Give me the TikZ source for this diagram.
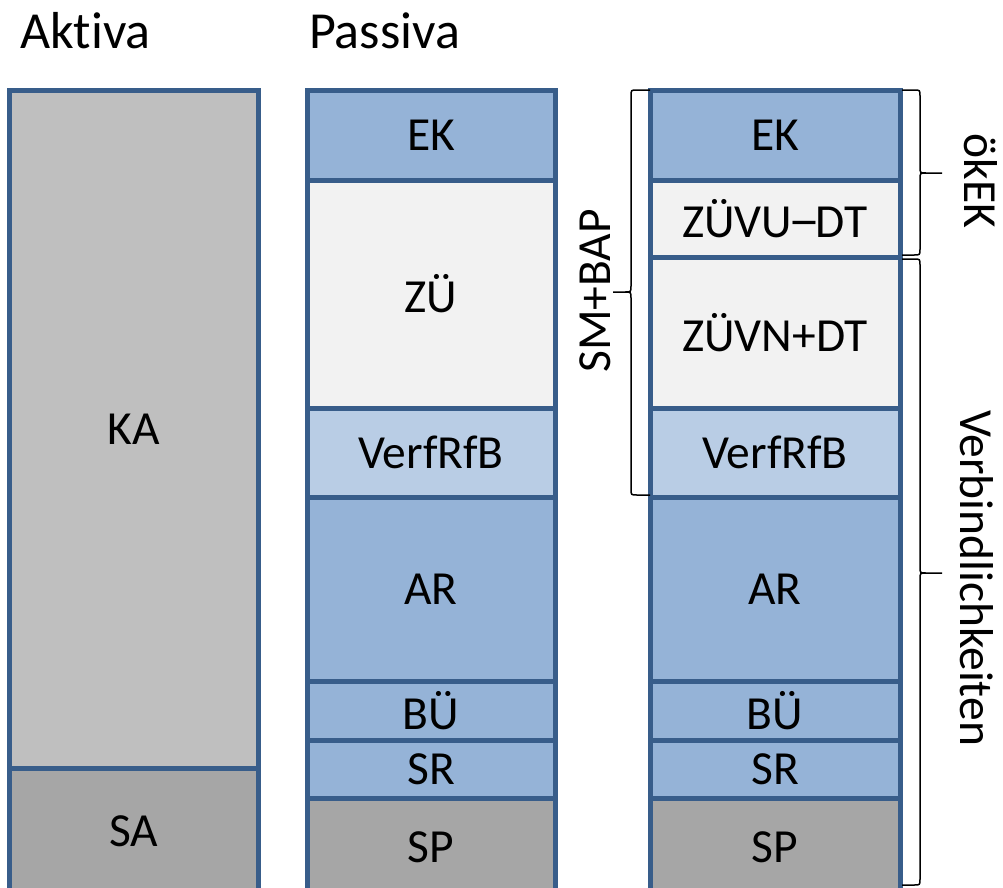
\documentclass[tikz,border=0pt]{standalone}
\usepackage{fontspec}
\setmainfont{Carlito}[Ligatures={NoCommon,NoRequired,NoContextual}]
\definecolor{bordc}{HTML}{385D8A}
\definecolor{blueA}{HTML}{95B3D7}
\definecolor{blueB}{HTML}{B9CDE5}
\definecolor{greyL}{HTML}{F2F2F2}
\definecolor{greyM}{HTML}{BFBFBF}
\definecolor{greyD}{HTML}{A6A6A6}
\newcommand{\wideDash}{\makebox[0.498em][c]{\scalebox{1.35}[1.1]{–}}}
\begin{document}
\begin{tikzpicture}[x=1pt,y=-1pt,
  seg/.style={draw=bordc, line width=5pt, rectangle, inner sep=0pt,
    font=\fontsize{47.5}{52}\selectfont, text=black},
  colL/.style={seg, minimum width=249pt},
  colM/.style={seg, minimum width=248pt},
  colR/.style={seg, minimum width=250pt},
  titletext/.style={font=\fontsize{52}{60}\selectfont, anchor=base west, inner sep=0pt},
  sidetext/.style={font=\fontsize{47.5}{52}\selectfont, inner sep=0pt},
  brc/.style={line width=1.5pt, black}]
\useasboundingbox (0,0) rectangle (1003,887);
\clip (0,0) rectangle (1003,887);
% titles
\node[titletext] (aktiva) at (20,48) {Aktiva};
\node[titletext] (passiva) at (309,48) {Passiva};
% left column
\node[colL, fill=greyM, minimum height=678pt] (ka) at (133.5,429) {KA};
\node[colL, fill=greyD, minimum height=126pt] (sa) at (133.5,831) {SA};
% middle column
\node[colM, fill=blueA, minimum height=90pt] (ek1) at (431,135) {EK};
\node[colM, fill=greyL, minimum height=228pt] (zu1) at (431,294) {ZÜ};
\node[colM, fill=blueB, minimum height=89pt] (vr1) at (431,452.5) {VerfRfB};
\node[colM, fill=blueA, minimum height=184pt] (ar1) at (431,589) {AR};
\node[colM, fill=blueA, minimum height=59pt] (bu1) at (431,710.5) {BÜ};
\node[colM, fill=blueA, minimum height=58pt] (sr1) at (431,769) {SR};
\node[colM, fill=greyD, minimum height=98pt] (sp1) at (431,847) {SP};
% right column
\node[colR, fill=blueA, minimum height=90pt] (ek2) at (775,135) {EK};
\node[colR, fill=greyL, minimum height=77pt] (zvu) at (775,218.5) {ZÜVU\wideDash DT};
\node[colR, fill=greyL, minimum height=151pt] (zvn) at (775,332.5) {ZÜVN+DT};
\node[colR, fill=blueB, minimum height=89pt] (vr2) at (775,452.5) {VerfRfB};
\node[colR, fill=blueA, minimum height=184pt] (ar2) at (775,589) {AR};
\node[colR, fill=blueA, minimum height=59pt] (bu2) at (775,710.5) {BÜ};
\node[colR, fill=blueA, minimum height=58pt] (sr2) at (775,769) {SR};
\node[colR, fill=greyD, minimum height=98pt] (sp2) at (775,847) {SP};
% braces
\draw[brc] (650,90) -- (637,90) .. controls (631,90) .. (631,96) -- (631,286)
  .. controls (631,292) .. (625,292) -- (613,292)
  (625,292) .. controls (631,292) .. (631,298) -- (631,489)
  .. controls (631,495) .. (637,495) -- (650,495);
\draw[brc] (902,90) -- (914,90) .. controls (920,90) .. (920,96) -- (920,167)
  .. controls (920,173) .. (926,173) -- (942,173)
  (926,173) .. controls (920,173) .. (920,179) -- (920,249)
  .. controls (920,255) .. (914,255) -- (902,255);
\draw[brc] (902,259) -- (914,259) .. controls (920,259) .. (920,265) -- (920,567)
  .. controls (920,573) .. (926,573) -- (942,573)
  (926,573) .. controls (920,573) .. (920,579) -- (920,879)
  .. controls (920,885) .. (914,885) -- (902,885);
% brace labels
\node[sidetext, rotate=90] (smbap) at (595,291) {SM+BAP};
\node[sidetext, rotate=-90] (okek) at (981,181) {ökEK};
\node[sidetext, rotate=-90] (verb) at (977,578) {Verbindlichkeiten};
\end{tikzpicture}
\end{document}
